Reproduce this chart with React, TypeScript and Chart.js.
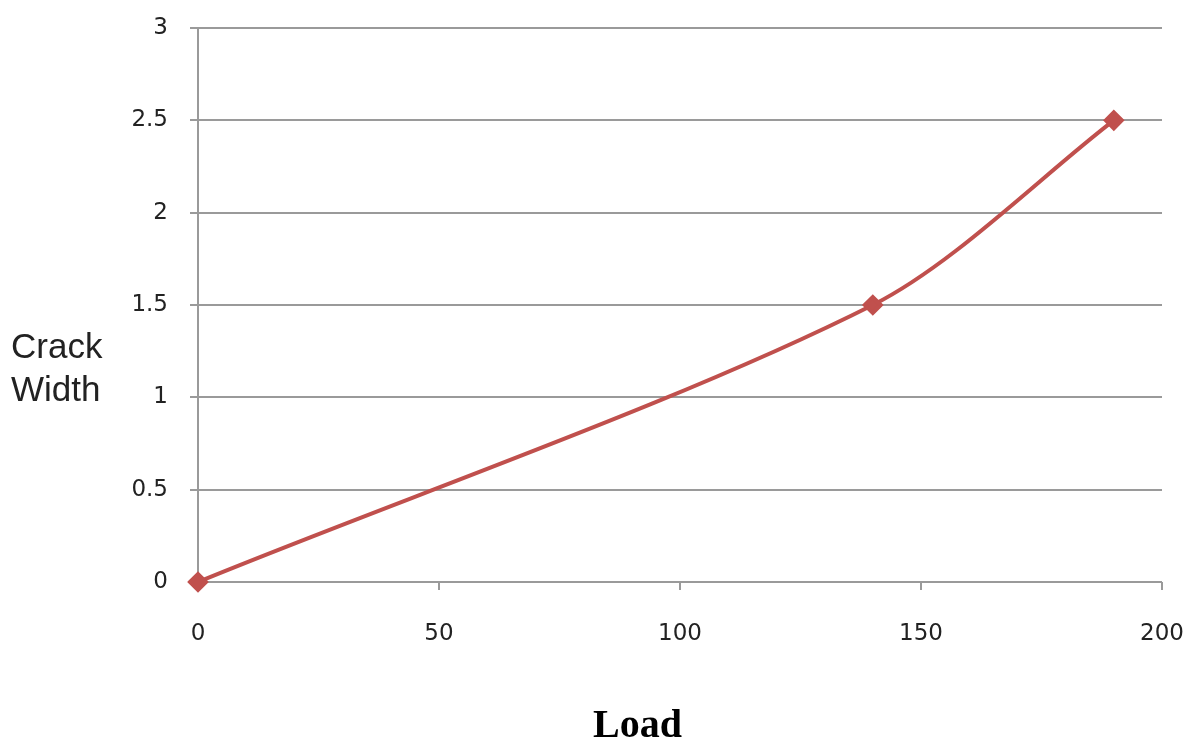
import React, { useEffect, useRef } from "react";
import { Chart, registerables } from "chart.js";

Chart.register(...registerables);

const loadValues = [0, 140, 190];
const crackWidths = [0, 1.5, 2.5];
const xTicks = [0, 50, 100, 150, 200];
const yTitleLines = ["Crack", "Width"];
const xTitle = "Load";

const LINE_COLOR = "#c0504d";
const GRID_COLOR = "#9a9a9a";
const TICK_FONT = "'DejaVu Sans', Verdana, sans-serif";

export default function App() {
  const canvasRef = useRef<HTMLCanvasElement | null>(null);

  useEffect(() => {
    const canvas = canvasRef.current;
    if (!canvas) return;
    const points = loadValues.map((x, i) => ({ x, y: crackWidths[i] }));
    const chart = new Chart(canvas, {
      type: "scatter",
      data: {
        datasets: [
          {
            data: points,
            showLine: true,
            borderColor: LINE_COLOR,
            backgroundColor: LINE_COLOR,
            borderWidth: 4,
            tension: 0.3,
            pointStyle: "rectRot",
            pointRadius: 8,
            pointHoverRadius: 8,
            clip: false as any,
          },
        ],
      },
      options: {
        responsive: true,
        maintainAspectRatio: false,
        animation: false,
        layout: { padding: { left: 0, right: 35, top: 28, bottom: 0 } },
        plugins: {
          legend: { display: false },
          tooltip: { enabled: false },
        },
        scales: {
          x: {
            type: "linear",
            min: 0,
            max: 200,
            afterBuildTicks: (scale: any) => {
              scale.ticks = xTicks.map((v) => ({ value: v }));
            },
            afterFit: (scale: any) => {
              scale.height = 161;
              scale.paddingLeft = 0;
              scale.paddingRight = 0;
            },
            grid: {
              drawOnChartArea: false,
              drawTicks: true,
              tickLength: 8,
              color: GRID_COLOR,
              lineWidth: 2,
            },
            border: { display: false },
            ticks: {
              padding: 30,
              color: "#222",
              font: { family: TICK_FONT, size: 23 },
              maxRotation: 0,
              callback: (v: any) => String(v),
            },
          },
          y: {
            type: "linear",
            min: 0,
            max: 3,
            afterFit: (scale: any) => {
              scale.width = 198;
              scale.paddingTop = 0;
              scale.paddingBottom = 0;
            },
            grid: {
              drawTicks: true,
              tickLength: 8,
              color: GRID_COLOR,
              lineWidth: 2,
            },
            border: { display: true, color: GRID_COLOR, width: 2 },
            ticks: {
              stepSize: 0.5,
              padding: 22,
              color: "#222",
              font: { family: TICK_FONT, size: 23 },
              callback: (v: any) => String(Number(v)),
            },
          },
        },
      },
    });
    return () => chart.destroy();
  }, []);

  return (
    <div
      style={{
        position: "fixed",
        left: 0,
        top: 0,
        width: 1197,
        height: 743,
        background: "#fff",
      }}
    >
      <canvas ref={canvasRef} />
      <div
        style={{
          position: "absolute",
          left: 11,
          top: 324,
          fontFamily: "'Liberation Sans', Arial, sans-serif",
          fontSize: 35,
          lineHeight: "43px",
          color: "#222",
        }}
      >
        {yTitleLines.map((l) => (
          <div key={l}>{l}</div>
        ))}
      </div>
      <div
        style={{
          position: "absolute",
          left: 0,
          width: 1275,
          top: 704,
          textAlign: "center",
          fontFamily: "'Liberation Serif', 'Times New Roman', serif",
          fontWeight: "bold",
          fontSize: 40,
          lineHeight: 1,
          color: "#000",
        }}
      >
        {xTitle}
      </div>
    </div>
  );
}
